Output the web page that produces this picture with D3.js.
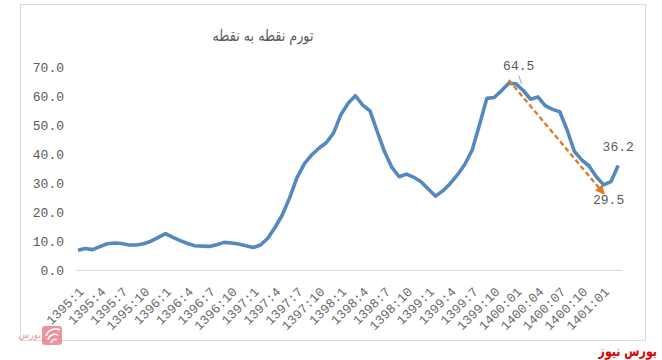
<!DOCTYPE html>
<html><head><meta charset="utf-8">
<script src="https://cdn.jsdelivr.net/npm/d3@7/dist/d3.min.js"></script>
<style>body{margin:0;background:#fff}svg{display:block}</style>
</head><body><svg id="c" width="662" height="360"></svg>
<script>
const title = "تورم نقطه به نقطه";
const years = [1395, 1396, 1397, 1398, 1399, 1400, 1401];
// monthly categories 1395:1 .. 1401:03
const categories = [];
years.forEach(y => { for (let m = 1; m <= 12; m++) { if (y === 1401 && m > 3) break; categories.push(y + ":" + (y >= 1400 ? String(m).padStart(2, "0") : m)); } });
const values = [7.0,7.6,7.2,8.2,9.2,9.5,9.3,8.8,8.8,9.2,10.1,11.4,12.7,11.4,10.3,9.3,8.5,8.4,8.3,8.9,9.7,9.5,9.1,8.5,
  7.9,8.8,11.1,14.9,19.2,25.1,32.0,36.7,39.8,42.1,44.0,47.3,53.6,57.6,60.2,57.0,55.0,47.8,40.9,35.5,32.3,33.2,32.1,30.6,
  28.0,25.6,27.5,30.0,33.0,36.6,41.5,50.2,59.3,59.6,61.9,64.5,64.3,62.0,59.0,59.8,56.8,55.5,54.7,48.4,41.0,38.1,36.0,32.3,
  29.5,30.6,36.2];
const yTicks = [0,10,20,30,40,50,60,70];
const tickLabels = categories.filter((d, i) => i % 3 === 0);
const labelled = [["1399:12", "64.5"], ["1401:01", "29.5"], ["1401:03", "36.2"]];
const arrowFrom = ["1399:12", 65.6];
const arrowTo = ["1401:01", 26.6];

const svg = d3.select("#c");
svg.append("rect").attr("x", 20.5).attr("y", 4.5).attr("width", 625).attr("height", 336)
  .attr("fill", "#fff").attr("stroke", "#d9d9d9");

const x = d3.scalePoint().domain(categories).range([78, 618.2]);
const y = d3.scaleLinear().domain([0, 70]).range([270.5, 67.3]);
const mono = "'Liberation Mono','DejaVu Sans Mono',monospace";

svg.append("text").attr("transform", "translate(263,41) scale(0.82,1)").attr("text-anchor", "middle")
  .attr("font-family", "'DejaVu Sans',sans-serif").attr("font-size", 15.5).attr("fill", "#595959")
  .attr("direction", "rtl").text(title);

// y axis
const ya = svg.append("g").attr("transform", "translate(64,0)")
  .call(d3.axisLeft(y).tickValues(yTicks).tickSize(0).tickPadding(0).tickFormat(d3.format(".1f")));
ya.select(".domain").remove();
ya.selectAll("text").attr("font-family", mono).attr("font-size", 13).attr("fill", "#595959");

// x axis
const xa = svg.append("g").attr("transform", "translate(0,270.5)")
  .call(d3.axisBottom(x).tickValues(tickLabels).tickSize(0).tickPadding(0));
xa.select(".domain").attr("d", "M76,0H622").attr("stroke", "#d9d9d9").attr("stroke-width", 1.2);
xa.selectAll("text").attr("font-family", mono).attr("font-size", 13).attr("fill", "#6a6a6a")
  .attr("text-anchor", "end").attr("dy", null).attr("y", 0)
  .attr("transform", "translate(6,22) rotate(-45)");

// line
svg.append("path").datum(values)
  .attr("d", d3.line().x((d, i) => x(categories[i])).y(d => y(d)))
  .attr("fill", "none").attr("stroke", "#5489c0").attr("stroke-width", 3.6).attr("stroke-linejoin", "round");

// arrow
svg.append("defs").append("marker").attr("id", "ah").attr("viewBox", "0 0 10 10")
  .attr("refX", 8).attr("refY", 5).attr("markerWidth", 4).attr("markerHeight", 4).attr("orient", "auto")
  .append("path").attr("d", "M0,0L10,5L0,10z").attr("fill", "#e07b2a");
svg.append("line").attr("x1", x(arrowFrom[0])).attr("y1", y(arrowFrom[1]))
  .attr("x2", x(arrowTo[0])).attr("y2", y(arrowTo[1]))
  .attr("stroke", "#e07b2a").attr("stroke-width", 2.4).attr("stroke-dasharray", "5,3")
  .attr("marker-end", "url(#ah)");

// data labels
const lblPos = {"64.5": [10, -13], "29.5": [5, 19], "36.2": [0, -14]};
labelled.forEach(([c, t]) => {
  const v = values[categories.indexOf(c)];
  const [dx, dy] = lblPos[t];
  svg.append("text").attr("x", x(c) + dx).attr("y", y(v) + dy).attr("text-anchor", "middle")
    .attr("font-family", mono).attr("font-size", 13).attr("fill", "#595959").text(t);
});
svg.append("line").attr("x1", x("1399:12") + 10).attr("y1", y(64.5) - 8)
  .attr("x2", x("1399:12") + 13).attr("y2", y(64.5) + 1).attr("stroke", "#8ea9c9").attr("stroke-width", 1);

// watermarks
svg.append("text").attr("transform", "translate(657,356) scale(0.85,1.1)").attr("text-anchor", "start")
  .attr("font-family", "'DejaVu Sans',sans-serif").attr("font-weight", "bold").attr("font-size", 13)
  .attr("fill", "#e00000").attr("direction", "rtl").text("بورس نیوز");
const lg = svg.append("g").attr("opacity", 0.75);
lg.append("rect").attr("x", 42).attr("y", 326).attr("width", 20).attr("height", 19).attr("rx", 3).attr("fill", "#e8707a");
lg.append("path").attr("d", "M46,336 a10,10 0 0 1 14,-6 M48,340 a7,7 0 0 1 10,-5 M51,343 a4,4 0 0 1 6,-3")
  .attr("fill", "none").attr("stroke", "#fff").attr("stroke-width", 1.6);
lg.append("text").attr("x", 41).attr("y", 338).attr("text-anchor", "start").attr("font-family", "'DejaVu Sans',sans-serif")
  .attr("font-size", 9).attr("fill", "#e8707a").attr("direction", "rtl").text("بورس");
</script></body></html>
